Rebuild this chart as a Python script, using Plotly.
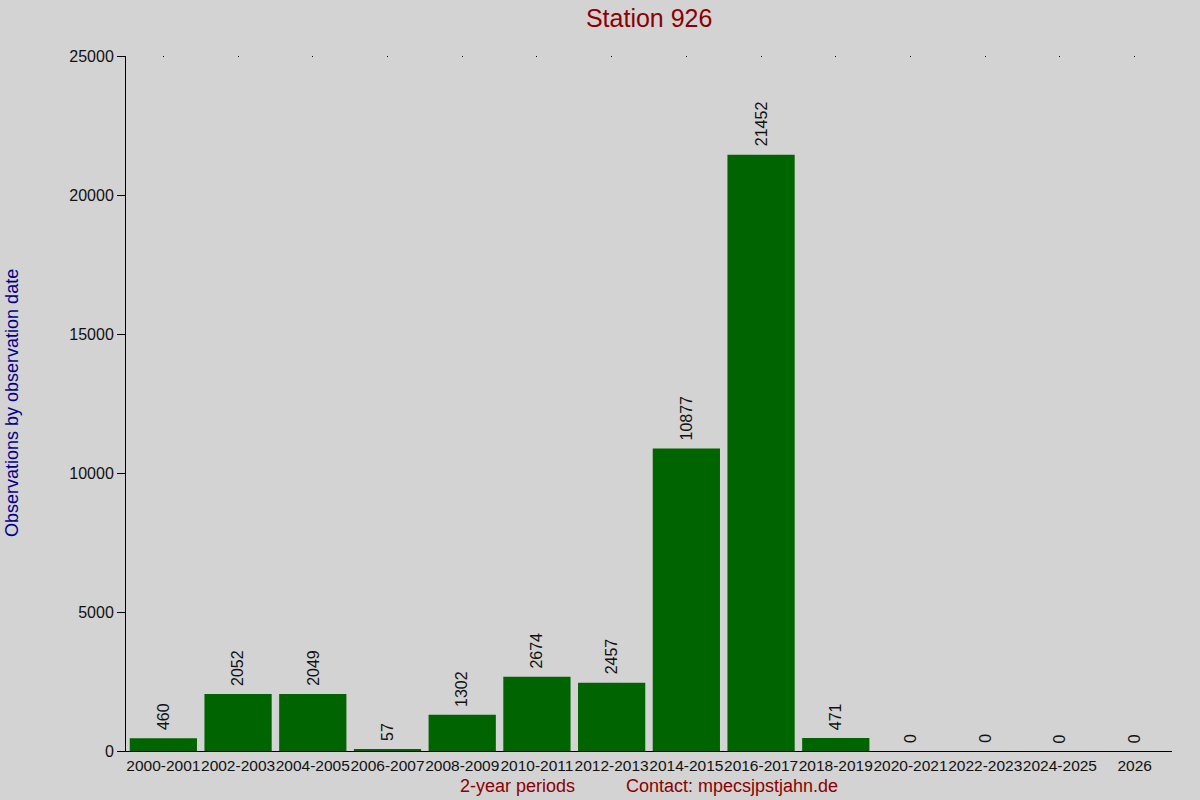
import plotly.graph_objects as go

# 2-year periods and observation counts
periods = ["2000-2001", "2002-2003", "2004-2005", "2006-2007", "2008-2009",
           "2010-2011", "2012-2013", "2014-2015", "2016-2017", "2018-2019",
           "2020-2021", "2022-2023", "2024-2025", "2026"]
counts = [460, 2052, 2049, 57, 1302, 2674, 2457, 10877, 21452, 471, 0, 0, 0, 0]

FONT = "Liberation Sans, Arial, sans-serif"
DARKRED = "#8b0000"

fig = go.Figure()
fig.add_trace(go.Bar(
    x=periods,
    y=counts,
    marker=dict(color="#006400", line_width=0),
    width=0.9,
    showlegend=False,
    hoverinfo="x+y",
))
# empty trace so the top tick axis gets drawn
fig.add_trace(go.Scatter(x=[0], y=[None], xaxis="x2", showlegend=False,
                         hoverinfo="skip"))

# value labels above bars (by category index, "2026" would read as a number)
for i, c in enumerate(counts):
    fig.add_annotation(x=i, y=c, text=str(c), textangle=-90, showarrow=False,
                       xanchor="center", yanchor="bottom", yshift=6,
                       font=dict(family=FONT, size=16, color="#111111"))

fig.update_layout(
    title=dict(text="Station 926", x=0.541, xanchor="center", y=0.977,
               yanchor="middle", font=dict(family=FONT, size=25, color=DARKRED)),
    paper_bgcolor="#d3d3d3",
    plot_bgcolor="#d3d3d3",
    width=1200,
    height=800,
    margin=dict(l=126, r=28, t=56, b=49),
    font=dict(family=FONT, size=16, color="#111111"),
    xaxis=dict(
        type="category",
        range=[-0.5, len(periods) - 0.5],
        showline=True, linecolor="black", linewidth=1,
        ticks="", showgrid=False, zeroline=False,
        tickfont=dict(family=FONT, size=15.5, color="#111111"),
        tickangle=0,
    ),
    xaxis2=dict(
        overlaying="x", side="top", anchor="y",
        range=[-0.5, len(periods) - 0.5],
        tickmode="array", tickvals=list(range(len(periods))),
        ticks="inside", ticklen=1, tickwidth=1, tickcolor="black",
        showticklabels=False, showline=False, showgrid=False, zeroline=False,
    ),
    yaxis=dict(
        range=[0, 25000], dtick=5000, tickformat="d",
        showline=True, linecolor="black", linewidth=1,
        ticks="outside", ticklen=8, tickcolor="black",
        showgrid=False, zeroline=False,
        tickfont=dict(family=FONT, size=16, color="#111111"),
        automargin=False,
    ),
)

fig.add_annotation(text="Observations by observation date", xref="paper",
                   yref="paper", x=(12 - 126) / 1046, y=(751 - 403) / 695,
                   xanchor="center", yanchor="middle", textangle=-90,
                   showarrow=False,
                   font=dict(family=FONT, size=18, color="#00008b"))
fig.add_annotation(text="2-year periods", xref="paper", yref="paper",
                   x=(517 - 126) / 1046, y=-35 / 695, xanchor="center",
                   yanchor="middle", showarrow=False,
                   font=dict(family=FONT, size=18, color=DARKRED))
fig.add_annotation(text="Contact: mpecsjpstjahn.de", xref="paper", yref="paper",
                   x=(732 - 126) / 1046, y=-35 / 695, xanchor="center",
                   yanchor="middle", showarrow=False,
                   font=dict(family=FONT, size=18, color=DARKRED))

fig.write_html("out.html", config={"displayModeBar": False},
               post_script="document.body.style.margin='0';")
